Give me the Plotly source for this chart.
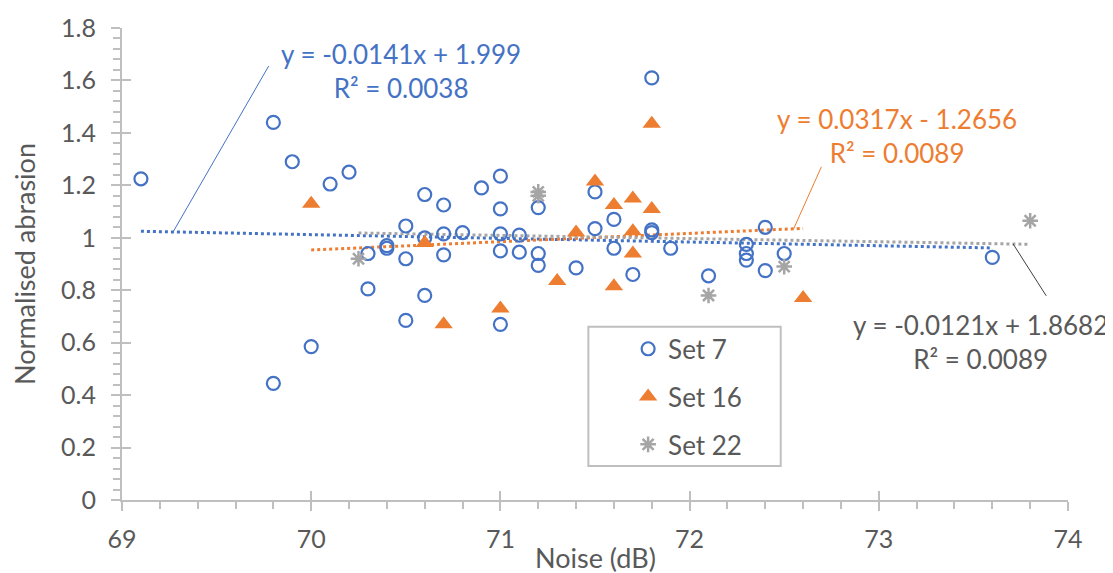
import plotly.graph_objects as go

# ---------------- data ----------------
set7_x = [69.1, 69.8, 69.8, 69.9, 70.0, 70.1, 70.2, 70.3, 70.3, 70.4, 70.4,
          70.5, 70.5, 70.5, 70.6, 70.6, 70.6, 70.7, 70.7, 70.7, 70.8, 70.9,
          71.0, 71.0, 71.0, 71.0, 71.0, 71.1, 71.1, 71.2, 71.2, 71.2, 71.4,
          71.5, 71.5, 71.6, 71.6, 71.7, 71.8, 71.8, 71.8, 71.9, 72.1, 72.3,
          72.3, 72.3, 72.4, 72.4, 72.5, 73.6]
set7_y = [1.225, 1.44, 0.445, 1.29, 0.585, 1.205, 1.25, 0.94, 0.805, 0.97, 0.96,
          1.045, 0.92, 0.685, 1.165, 1.0, 0.78, 1.125, 1.015, 0.935, 1.02, 1.19,
          1.235, 1.11, 1.015, 0.95, 0.67, 1.01, 0.945, 1.115, 0.94, 0.895, 0.885,
          1.175, 1.035, 1.07, 0.96, 0.86, 1.61, 1.03, 1.02, 0.96, 0.855, 0.975,
          0.94, 0.915, 1.04, 0.875, 0.94, 0.925]

set16_x = [70.0, 70.6, 70.7, 71.0, 71.3, 71.4, 71.5, 71.6, 71.6, 71.7, 71.7,
           71.7, 71.8, 71.8, 72.6]
set16_y = [1.13, 0.98, 0.67, 0.73, 0.835, 1.02, 1.215, 1.125, 0.815, 1.15, 1.025,
           0.94, 1.435, 1.11, 0.77]

set22_x = [70.25, 71.2, 71.2, 72.1, 72.5, 73.8]
set22_y = [0.92, 1.175, 1.16, 0.78, 0.89, 1.065]

series_names = ["Set 7", "Set 16", "Set 22"]
trend_slopes = [-0.0141, 0.0317, -0.0121]
trend_intercepts = [1.999, -1.2656, 1.8682]
trend_labels = ["y = -0.0141x + 1.999<br>R² = 0.0038",
                "y = 0.0317x - 1.2656<br>R² = 0.0089",
                "y = -0.0121x + 1.8682<br>R² = 0.0089"]

x_ticks = [69, 70, 71, 72, 73, 74]
y_ticks = [0, 0.2, 0.4, 0.6, 0.8, 1, 1.2, 1.4, 1.6, 1.8]

# ---------------- styles ----------------
BLUE, ORANGE, GRAY = "#4472C4", "#ED7D31", "#A5A5A5"
TXT = "#595959"
AX = "#BFBFBF"
FONT = "Lato"
colors = [BLUE, ORANGE, GRAY]

xs = [set7_x, set16_x, set22_x]
ys = [set7_y, set16_y, set22_y]

fig = go.Figure()

# trendlines
for i in range(3):
    x0, x1 = min(xs[i]), max(xs[i])
    m, b = trend_slopes[i], trend_intercepts[i]
    fig.add_trace(go.Scatter(
        x=[x0, x1], y=[m * x0 + b, m * x1 + b], mode="lines",
        line=dict(color=colors[i], width=3, dash="dot"),
        showlegend=False, hoverinfo="skip"))

marker_styles = [
    dict(symbol="circle-open", size=13, color=BLUE, line=dict(width=2.2, color=BLUE)),
    dict(symbol="triangle-up", size=16, color=ORANGE, line=dict(width=0)),
    dict(symbol="asterisk-open", size=13, color=GRAY, line=dict(width=2.5, color=GRAY)),
]
for i in range(3):
    fig.add_trace(go.Scatter(
        x=xs[i], y=ys[i], mode="markers", name=series_names[i],
        marker=marker_styles[i], legendgroup=series_names[i]))

# crossing tick helpers (inside half of major ticks)
fig.add_trace(go.Scatter(x=[None], y=[None], xaxis="x2", yaxis="y2",
                         showlegend=False, hoverinfo="skip"))

tick_font = dict(family=FONT, size=25, color=TXT)
title_font = dict(family=FONT, size=27, color=TXT)

fig.update_layout(
    width=1105, height=565,
    margin=dict(l=114, r=45, t=20, b=73),
    paper_bgcolor="white", plot_bgcolor="white",
    font=dict(family=FONT, color=TXT, size=25),
    xaxis=dict(
        range=[69, 74], tickvals=x_ticks, showgrid=False, zeroline=False,
        showline=True, linecolor=AX, linewidth=2,
        ticks="outside", ticklen=9, tickwidth=2, tickcolor=AX,
        minor=dict(dtick=0.2, ticks="outside", ticklen=7, tickwidth=1.5, tickcolor=AX, showgrid=False),
        tickfont=tick_font, ticklabelstandoff=7,
        automargin=False),
    yaxis=dict(
        range=[0, 1.8], tickvals=y_ticks, showgrid=False, zeroline=False,
        showline=True, linecolor=AX, linewidth=2,
        ticks="outside", ticklen=9, tickwidth=2, tickcolor=AX,
        minor=dict(dtick=0.04, ticks="outside", ticklen=7, tickwidth=1.5, tickcolor=AX, showgrid=False),
        tickfont=tick_font, ticklabelstandoff=10,
        title=dict(text="Normalised abrasion", font=title_font, standoff=20),
        automargin=False),
    xaxis2=dict(range=[69, 74], tickvals=x_ticks, overlaying="x", anchor="y2",
                side="bottom", showgrid=False, zeroline=False, showline=False,
                ticks="inside", ticklen=9, tickwidth=2, tickcolor=AX,
                showticklabels=False),
    yaxis2=dict(range=[0, 1.8], tickvals=y_ticks, overlaying="y", anchor="x2",
                side="left", showgrid=False, zeroline=False, showline=False,
                ticks="inside", ticklen=9, tickwidth=2, tickcolor=AX,
                showticklabels=False),
    legend=dict(x=0.535, y=0.370, xanchor="left", yanchor="top",
                bgcolor="rgba(0,0,0,0)", borderwidth=0,
                font=dict(family=FONT, size=26, color=TXT),
                tracegroupgap=11),
)

# x-axis title (sits tight under the tick labels)
fig.add_annotation(text="Noise (dB)", xref="paper", yref="paper", x=0.5, y=-0.122,
                   xanchor="center", yanchor="middle", showarrow=False, font=title_font)

# legend box
fig.add_shape(type="rect", xref="paper", yref="paper",
              x0=0.493, x1=0.6963, y0=0.0720, y1=0.367,
              line=dict(color=AX, width=2), fillcolor="white", layer="above")

# trendline equation labels + leader lines
label_pos = [(70.475, 1.636), (73.096, 1.387), (73.537, 0.604)]
label_colors = [BLUE, ORANGE, TXT]
leader_head_x = [69.27, 72.55, 73.71]
leader_tail = [(69.78, 1.661), (72.70, 1.276), (73.89, 0.773)]
leader_colors = [BLUE, ORANGE, "#404040"]
for i in range(3):
    fig.add_annotation(x=label_pos[i][0], y=label_pos[i][1], xref="x", yref="y",
                       text=trend_labels[i], showarrow=False,
                       font=dict(family=FONT, size=26, color=label_colors[i]),
                       align="center", xanchor="center", yanchor="middle")
    hx = leader_head_x[i]
    hy = trend_slopes[i] * hx + trend_intercepts[i]
    fig.add_annotation(x=hx, y=hy, xref="x", yref="y",
                       ax=leader_tail[i][0], ay=leader_tail[i][1], axref="x", ayref="y",
                       text="", showarrow=True, arrowhead=0, arrowwidth=1,
                       arrowcolor=leader_colors[i])

fig.write_html("out.html")
